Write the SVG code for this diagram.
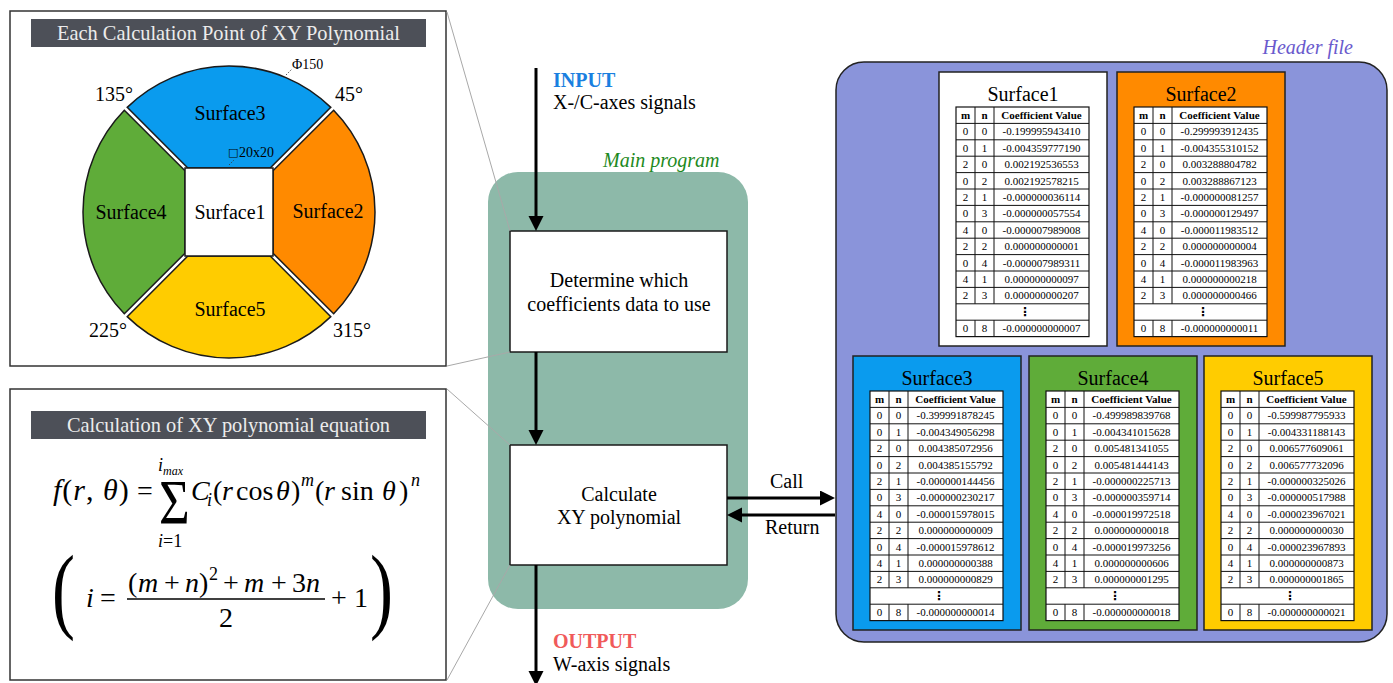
<svg xmlns="http://www.w3.org/2000/svg" width="1393" height="683" viewBox="0 0 1393 683">
<defs>
<style>
text{font-family:"Liberation Serif","Times New Roman",serif;fill:#000}
.it{font-style:italic}
.b{font-weight:bold}
.panel{fill:#fff;stroke:#333;stroke-width:1.5}
.bar{fill:#4d5058}
.bart{fill:#ececec;font-size:20.4px;text-anchor:middle}
.sec{stroke:#1a1a1a;stroke-width:1.5}
.lbl{font-size:20px;text-anchor:middle}
.ang{font-size:20px}
.lead{stroke:#a8a8a8;stroke-width:1;fill:none}
.flow{stroke:#000;stroke-width:3;fill:none}
.box{fill:#fff;stroke:#1a1a1a;stroke-width:1.5}
.bt{font-size:20px;text-anchor:middle}
.sp{stroke:#222;stroke-width:1.5}
.st{font-size:20px;text-anchor:middle}
.gbg{fill:#fff;stroke:#111;stroke-width:1.2}
.gl{fill:none;stroke:#111;stroke-width:1}
.c{font-size:11px;text-anchor:middle}
.dots{font-family:"DejaVu Sans",sans-serif;font-size:12px;font-weight:bold;text-anchor:middle}
.eq{font-size:28px}
.sm{font-size:18px}
</style>
<marker id="ah" markerUnits="userSpaceOnUse" markerWidth="16" markerHeight="16" refX="7" refY="7.5" orient="auto"><path d="M0,0 L15,7.5 L0,15 Z" fill="#000"/></marker>
<g id="grid">
<rect class="gbg" x="0" y="0" width="133" height="229.6"/>
<path class="gl" d="M0 16.4H133M0 32.8H133M0 49.2H133M0 65.6H133M0 82H133M0 98.4H133M0 114.8H133M0 131.2H133M0 147.6H133M0 164H133M0 180.4H133M0 196.8H133M0 213.2H133M19 0V196.8M38 0V196.8M19 213.2V229.6M38 213.2V229.6"/>
</g>
</defs>

<rect width="1393" height="683" fill="#fff"/>

<!-- Left panel 1 -->
<g id="calc-points">
<rect class="panel" x="10" y="11" width="436" height="355"/>
<rect class="bar" x="31" y="19" width="395" height="28"/>
<text class="bart" x="228.5" y="40">Each Calculation Point of XY Polynomial</text>
<path class="sec" fill="#0a9bee" d="M187.83 168 L127.2 107.35 A146 146 0 0 1 330.8 107.35 L270.17 168 Z"/>
<path class="sec" fill="#ff8a00" d="M273 170.83 L333.65 110.2 A146 146 0 0 1 333.65 313.8 L273 253.17 Z"/>
<path class="sec" fill="#ffcc00" d="M270.17 256 L330.8 316.65 A146 146 0 0 1 127.2 316.65 L187.83 256 Z"/>
<path class="sec" fill="#5fac39" d="M185 253.17 L124.35 313.8 A146 146 0 0 1 124.35 110.2 L185 170.83 Z"/>
<rect class="sec" fill="#fff" x="185" y="168" width="88" height="88"/>
<text class="lbl" x="230" y="120">Surface3</text>
<text class="lbl" x="131" y="219">Surface4</text>
<text class="lbl" x="230" y="219">Surface1</text>
<text class="lbl" x="328" y="218">Surface2</text>
<text class="lbl" x="230" y="316">Surface5</text>
<text class="ang" x="95" y="101">135°</text>
<text class="ang" x="335" y="101">45°</text>
<text class="ang" x="89" y="337">225°</text>
<text class="ang" x="333" y="337">315°</text>
<text x="292" y="69" font-size="14">Φ150</text>
<line x1="286" y1="75" x2="292" y2="69" stroke="#333" stroke-width="0.8" stroke-dasharray="1.5,1.5"/>
<text x="228" y="156" font-size="14"><tspan style="font-family:'DejaVu Sans',sans-serif" font-size="11">□</tspan><tspan x="239" y="157">20x20</tspan></text>
<line x1="229" y1="165" x2="234" y2="160" stroke="#333" stroke-width="0.8" stroke-dasharray="1.5,1.5"/>
</g>

<!-- Left panel 2 -->
<g id="equation">
<rect class="panel" x="10" y="389" width="436" height="291"/>
<rect class="bar" x="31" y="411" width="395" height="28"/>
<text class="bart" x="228.5" y="432">Calculation of XY polynomial equation</text>
<text x="53" y="500" font-size="30" letter-spacing="1"><tspan class="it">f</tspan>(<tspan class="it">r</tspan>, <tspan class="it">θ</tspan>)</text>
<text class="eq" x="137" y="500">=</text>
<text font-size="48" transform="translate(159,524) scale(1.1,1.3)">Σ</text>
<text class="sm it" x="158" y="471">i<tspan font-size="12" dy="4">max</tspan></text>
<text class="sm" x="158" y="547"><tspan class="it">i</tspan>=1</text>
<text class="eq" y="500"><tspan class="it" x="191">C</tspan><tspan class="it" font-size="18" x="207" y="506">i</tspan><tspan x="213" y="500">(</tspan><tspan class="it" x="222">r</tspan><tspan x="236">cos</tspan><tspan class="it" x="276">θ</tspan><tspan x="291">)</tspan><tspan class="it" font-size="18" x="301" y="486">m</tspan><tspan x="315" y="500">(</tspan><tspan class="it" x="324">r</tspan><tspan x="341">sin</tspan><tspan class="it" x="382">θ</tspan><tspan x="399">)</tspan><tspan class="it" font-size="18" x="411" y="486">n</tspan></text>
<text font-size="60" transform="translate(52,621) scale(1.15,1.6)">(</text>
<text class="eq" y="607"><tspan class="it" x="86">i</tspan><tspan x="100">=</tspan></text>
<text class="eq" y="592"><tspan x="128">(</tspan><tspan class="it" x="138">m</tspan><tspan x="164">+</tspan><tspan class="it" x="185">n</tspan><tspan x="199">)</tspan><tspan font-size="18" x="209" y="580">2</tspan><tspan x="223" y="592">+</tspan><tspan class="it" x="244">m</tspan><tspan x="271">+</tspan><tspan x="292">3</tspan><tspan class="it" x="306">n</tspan></text>
<line x1="127" y1="599" x2="325" y2="599" stroke="#000" stroke-width="1.3"/>
<text class="eq" x="219" y="627">2</text>
<text class="eq" y="607"><tspan x="331">+</tspan><tspan x="354">1</tspan></text>
<text font-size="60" transform="translate(370,621) scale(1.15,1.6)">)</text>
</g>

<!-- Main program -->
<g id="main-program">
<rect x="488" y="172" width="260" height="437" rx="30" fill="#8db9a9"/>
<text class="it" x="603" y="167" font-size="20" style="fill:#1e8a1e">Main program</text>
</g>
<g id="box-determine">
<rect class="box" x="510" y="231" width="217" height="121"/>
<text class="bt" x="619" y="287">Determine which</text>
<text class="bt" x="619" y="311">coefficients data to use</text>
</g>
<g id="box-calculate">
<rect class="box" x="510" y="445" width="217" height="120"/>
<text class="bt" x="619" y="501">Calculate</text>
<text class="bt" x="619" y="524">XY polynomial</text>
</g>
<g id="io-labels">
<text class="b" x="553" y="87" font-size="20" style="fill:#1a7fe0">INPUT</text>
<text x="553" y="109" font-size="20">X-/C-axes signals</text>
<text class="b" x="553" y="648" font-size="20" style="fill:#f05a5a">OUTPUT</text>
<text x="553" y="671" font-size="20">W-axis signals</text>
<text x="770" y="488" font-size="20">Call</text>
<text x="765" y="534" font-size="20">Return</text>
</g>

<!-- Header file -->
<g id="header-file">
<rect x="836" y="62" width="551" height="580" rx="28" fill="#8a94da" stroke="#222" stroke-width="1.5"/>
<text class="it" x="1353" y="54" font-size="20" text-anchor="end" style="fill:#6a5acd">Header file</text>
</g>

<g id="surface1-table" transform="translate(939,72)">
<rect class="sp" fill="#fff" x="0" y="0" width="168" height="274"/>
<text class="st" x="84" y="29">Surface1</text>
<g transform="translate(17,35)">
<use href="#grid"/>
<text class="c"><tspan class="b" x="9.5" y="12">m</tspan><tspan x="9.5" y="28.4">0</tspan><tspan x="9.5" y="44.8">0</tspan><tspan x="9.5" y="61.2">2</tspan><tspan x="9.5" y="77.6">0</tspan><tspan x="9.5" y="94">2</tspan><tspan x="9.5" y="110.4">0</tspan><tspan x="9.5" y="126.8">4</tspan><tspan x="9.5" y="143.2">2</tspan><tspan x="9.5" y="159.6">0</tspan><tspan x="9.5" y="176">4</tspan><tspan x="9.5" y="192.4">2</tspan><tspan x="9.5" y="225.2">0</tspan></text>
<text class="c"><tspan class="b" x="28.5" y="12">n</tspan><tspan x="28.5" y="28.4">0</tspan><tspan x="28.5" y="44.8">1</tspan><tspan x="28.5" y="61.2">0</tspan><tspan x="28.5" y="77.6">2</tspan><tspan x="28.5" y="94">1</tspan><tspan x="28.5" y="110.4">3</tspan><tspan x="28.5" y="126.8">0</tspan><tspan x="28.5" y="143.2">2</tspan><tspan x="28.5" y="159.6">4</tspan><tspan x="28.5" y="176">1</tspan><tspan x="28.5" y="192.4">3</tspan><tspan x="28.5" y="225.2">8</tspan></text>
<text class="c"><tspan class="b" x="85.5" y="12">Coefficient Value</tspan><tspan x="85.5" y="28.4">-0.199995943410</tspan><tspan x="85.5" y="44.8">-0.004359777190</tspan><tspan x="85.5" y="61.2">0.002192536553</tspan><tspan x="85.5" y="77.6">0.002192578215</tspan><tspan x="85.5" y="94">-0.000000036114</tspan><tspan x="85.5" y="110.4">-0.000000057554</tspan><tspan x="85.5" y="126.8">-0.000007989008</tspan><tspan x="85.5" y="143.2">0.000000000001</tspan><tspan x="85.5" y="159.6">-0.000007989311</tspan><tspan x="85.5" y="176">0.000000000097</tspan><tspan x="85.5" y="192.4">0.000000000207</tspan><tspan x="85.5" y="225.2">-0.000000000007</tspan></text>
<text class="dots" x="69" y="209">⋮</text>
</g>
</g>

<g id="surface2-table" transform="translate(1117,72)">
<rect class="sp" fill="#ff8a00" x="0" y="0" width="168" height="274"/>
<text class="st" x="84" y="29">Surface2</text>
<g transform="translate(17,35)">
<use href="#grid"/>
<text class="c"><tspan class="b" x="9.5" y="12">m</tspan><tspan x="9.5" y="28.4">0</tspan><tspan x="9.5" y="44.8">0</tspan><tspan x="9.5" y="61.2">2</tspan><tspan x="9.5" y="77.6">0</tspan><tspan x="9.5" y="94">2</tspan><tspan x="9.5" y="110.4">0</tspan><tspan x="9.5" y="126.8">4</tspan><tspan x="9.5" y="143.2">2</tspan><tspan x="9.5" y="159.6">0</tspan><tspan x="9.5" y="176">4</tspan><tspan x="9.5" y="192.4">2</tspan><tspan x="9.5" y="225.2">0</tspan></text>
<text class="c"><tspan class="b" x="28.5" y="12">n</tspan><tspan x="28.5" y="28.4">0</tspan><tspan x="28.5" y="44.8">1</tspan><tspan x="28.5" y="61.2">0</tspan><tspan x="28.5" y="77.6">2</tspan><tspan x="28.5" y="94">1</tspan><tspan x="28.5" y="110.4">3</tspan><tspan x="28.5" y="126.8">0</tspan><tspan x="28.5" y="143.2">2</tspan><tspan x="28.5" y="159.6">4</tspan><tspan x="28.5" y="176">1</tspan><tspan x="28.5" y="192.4">3</tspan><tspan x="28.5" y="225.2">8</tspan></text>
<text class="c"><tspan class="b" x="85.5" y="12">Coefficient Value</tspan><tspan x="85.5" y="28.4">-0.299993912435</tspan><tspan x="85.5" y="44.8">-0.004355310152</tspan><tspan x="85.5" y="61.2">0.003288804782</tspan><tspan x="85.5" y="77.6">0.003288867123</tspan><tspan x="85.5" y="94">-0.000000081257</tspan><tspan x="85.5" y="110.4">-0.000000129497</tspan><tspan x="85.5" y="126.8">-0.000011983512</tspan><tspan x="85.5" y="143.2">0.000000000004</tspan><tspan x="85.5" y="159.6">-0.000011983963</tspan><tspan x="85.5" y="176">0.000000000218</tspan><tspan x="85.5" y="192.4">0.000000000466</tspan><tspan x="85.5" y="225.2">-0.000000000011</tspan></text>
<text class="dots" x="69" y="209">⋮</text>
</g>
</g>

<g id="surface3-table" transform="translate(853,356)">
<rect class="sp" fill="#0a9bee" x="0" y="0" width="168" height="274"/>
<text class="st" x="84" y="29">Surface3</text>
<g transform="translate(17,35)">
<use href="#grid"/>
<text class="c"><tspan class="b" x="9.5" y="12">m</tspan><tspan x="9.5" y="28.4">0</tspan><tspan x="9.5" y="44.8">0</tspan><tspan x="9.5" y="61.2">2</tspan><tspan x="9.5" y="77.6">0</tspan><tspan x="9.5" y="94">2</tspan><tspan x="9.5" y="110.4">0</tspan><tspan x="9.5" y="126.8">4</tspan><tspan x="9.5" y="143.2">2</tspan><tspan x="9.5" y="159.6">0</tspan><tspan x="9.5" y="176">4</tspan><tspan x="9.5" y="192.4">2</tspan><tspan x="9.5" y="225.2">0</tspan></text>
<text class="c"><tspan class="b" x="28.5" y="12">n</tspan><tspan x="28.5" y="28.4">0</tspan><tspan x="28.5" y="44.8">1</tspan><tspan x="28.5" y="61.2">0</tspan><tspan x="28.5" y="77.6">2</tspan><tspan x="28.5" y="94">1</tspan><tspan x="28.5" y="110.4">3</tspan><tspan x="28.5" y="126.8">0</tspan><tspan x="28.5" y="143.2">2</tspan><tspan x="28.5" y="159.6">4</tspan><tspan x="28.5" y="176">1</tspan><tspan x="28.5" y="192.4">3</tspan><tspan x="28.5" y="225.2">8</tspan></text>
<text class="c"><tspan class="b" x="85.5" y="12">Coefficient Value</tspan><tspan x="85.5" y="28.4">-0.399991878245</tspan><tspan x="85.5" y="44.8">-0.004349056298</tspan><tspan x="85.5" y="61.2">0.004385072956</tspan><tspan x="85.5" y="77.6">0.004385155792</tspan><tspan x="85.5" y="94">-0.000000144456</tspan><tspan x="85.5" y="110.4">-0.000000230217</tspan><tspan x="85.5" y="126.8">-0.000015978015</tspan><tspan x="85.5" y="143.2">0.000000000009</tspan><tspan x="85.5" y="159.6">-0.000015978612</tspan><tspan x="85.5" y="176">0.000000000388</tspan><tspan x="85.5" y="192.4">0.000000000829</tspan><tspan x="85.5" y="225.2">-0.000000000014</tspan></text>
<text class="dots" x="69" y="209">⋮</text>
</g>
</g>

<g id="surface4-table" transform="translate(1029,356)">
<rect class="sp" fill="#5fac39" x="0" y="0" width="168" height="274"/>
<text class="st" x="84" y="29">Surface4</text>
<g transform="translate(17,35)">
<use href="#grid"/>
<text class="c"><tspan class="b" x="9.5" y="12">m</tspan><tspan x="9.5" y="28.4">0</tspan><tspan x="9.5" y="44.8">0</tspan><tspan x="9.5" y="61.2">2</tspan><tspan x="9.5" y="77.6">0</tspan><tspan x="9.5" y="94">2</tspan><tspan x="9.5" y="110.4">0</tspan><tspan x="9.5" y="126.8">4</tspan><tspan x="9.5" y="143.2">2</tspan><tspan x="9.5" y="159.6">0</tspan><tspan x="9.5" y="176">4</tspan><tspan x="9.5" y="192.4">2</tspan><tspan x="9.5" y="225.2">0</tspan></text>
<text class="c"><tspan class="b" x="28.5" y="12">n</tspan><tspan x="28.5" y="28.4">0</tspan><tspan x="28.5" y="44.8">1</tspan><tspan x="28.5" y="61.2">0</tspan><tspan x="28.5" y="77.6">2</tspan><tspan x="28.5" y="94">1</tspan><tspan x="28.5" y="110.4">3</tspan><tspan x="28.5" y="126.8">0</tspan><tspan x="28.5" y="143.2">2</tspan><tspan x="28.5" y="159.6">4</tspan><tspan x="28.5" y="176">1</tspan><tspan x="28.5" y="192.4">3</tspan><tspan x="28.5" y="225.2">8</tspan></text>
<text class="c"><tspan class="b" x="85.5" y="12">Coefficient Value</tspan><tspan x="85.5" y="28.4">-0.499989839768</tspan><tspan x="85.5" y="44.8">-0.004341015628</tspan><tspan x="85.5" y="61.2">0.005481341055</tspan><tspan x="85.5" y="77.6">0.005481444143</tspan><tspan x="85.5" y="94">-0.000000225713</tspan><tspan x="85.5" y="110.4">-0.000000359714</tspan><tspan x="85.5" y="126.8">-0.000019972518</tspan><tspan x="85.5" y="143.2">0.000000000018</tspan><tspan x="85.5" y="159.6">-0.000019973256</tspan><tspan x="85.5" y="176">0.000000000606</tspan><tspan x="85.5" y="192.4">0.000000001295</tspan><tspan x="85.5" y="225.2">-0.000000000018</tspan></text>
<text class="dots" x="69" y="209">⋮</text>
</g>
</g>

<g id="surface5-table" transform="translate(1204,356)">
<rect class="sp" fill="#ffcc00" x="0" y="0" width="168" height="274"/>
<text class="st" x="84" y="29">Surface5</text>
<g transform="translate(17,35)">
<use href="#grid"/>
<text class="c"><tspan class="b" x="9.5" y="12">m</tspan><tspan x="9.5" y="28.4">0</tspan><tspan x="9.5" y="44.8">0</tspan><tspan x="9.5" y="61.2">2</tspan><tspan x="9.5" y="77.6">0</tspan><tspan x="9.5" y="94">2</tspan><tspan x="9.5" y="110.4">0</tspan><tspan x="9.5" y="126.8">4</tspan><tspan x="9.5" y="143.2">2</tspan><tspan x="9.5" y="159.6">0</tspan><tspan x="9.5" y="176">4</tspan><tspan x="9.5" y="192.4">2</tspan><tspan x="9.5" y="225.2">0</tspan></text>
<text class="c"><tspan class="b" x="28.5" y="12">n</tspan><tspan x="28.5" y="28.4">0</tspan><tspan x="28.5" y="44.8">1</tspan><tspan x="28.5" y="61.2">0</tspan><tspan x="28.5" y="77.6">2</tspan><tspan x="28.5" y="94">1</tspan><tspan x="28.5" y="110.4">3</tspan><tspan x="28.5" y="126.8">0</tspan><tspan x="28.5" y="143.2">2</tspan><tspan x="28.5" y="159.6">4</tspan><tspan x="28.5" y="176">1</tspan><tspan x="28.5" y="192.4">3</tspan><tspan x="28.5" y="225.2">8</tspan></text>
<text class="c"><tspan class="b" x="85.5" y="12">Coefficient Value</tspan><tspan x="85.5" y="28.4">-0.599987795933</tspan><tspan x="85.5" y="44.8">-0.004331188143</tspan><tspan x="85.5" y="61.2">0.006577609061</tspan><tspan x="85.5" y="77.6">0.006577732096</tspan><tspan x="85.5" y="94">-0.000000325026</tspan><tspan x="85.5" y="110.4">-0.000000517988</tspan><tspan x="85.5" y="126.8">-0.000023967021</tspan><tspan x="85.5" y="143.2">0.000000000030</tspan><tspan x="85.5" y="159.6">-0.000023967893</tspan><tspan x="85.5" y="176">0.000000000873</tspan><tspan x="85.5" y="192.4">0.000000001865</tspan><tspan x="85.5" y="225.2">-0.000000000021</tspan></text>
<text class="dots" x="69" y="209">⋮</text>
</g>
</g>

<!-- Connectors -->
<g id="connectors">
<line class="lead" x1="447" y1="12" x2="510" y2="231"/>
<line class="lead" x1="447" y1="366" x2="510" y2="352"/>
<line class="lead" x1="447" y1="389" x2="510" y2="445"/>
<line class="lead" x1="447" y1="680" x2="510" y2="565"/>
<line class="flow" x1="536" y1="68" x2="536" y2="223" marker-end="url(#ah)"/>
<line class="flow" x1="536" y1="352" x2="536" y2="437" marker-end="url(#ah)"/>
<line class="flow" x1="536" y1="565" x2="536" y2="678" marker-end="url(#ah)"/>
<line class="flow" x1="727" y1="498" x2="827" y2="498" marker-end="url(#ah)"/>
<line class="flow" x1="835" y1="515" x2="735" y2="515" marker-end="url(#ah)"/>
</g>
</svg>
